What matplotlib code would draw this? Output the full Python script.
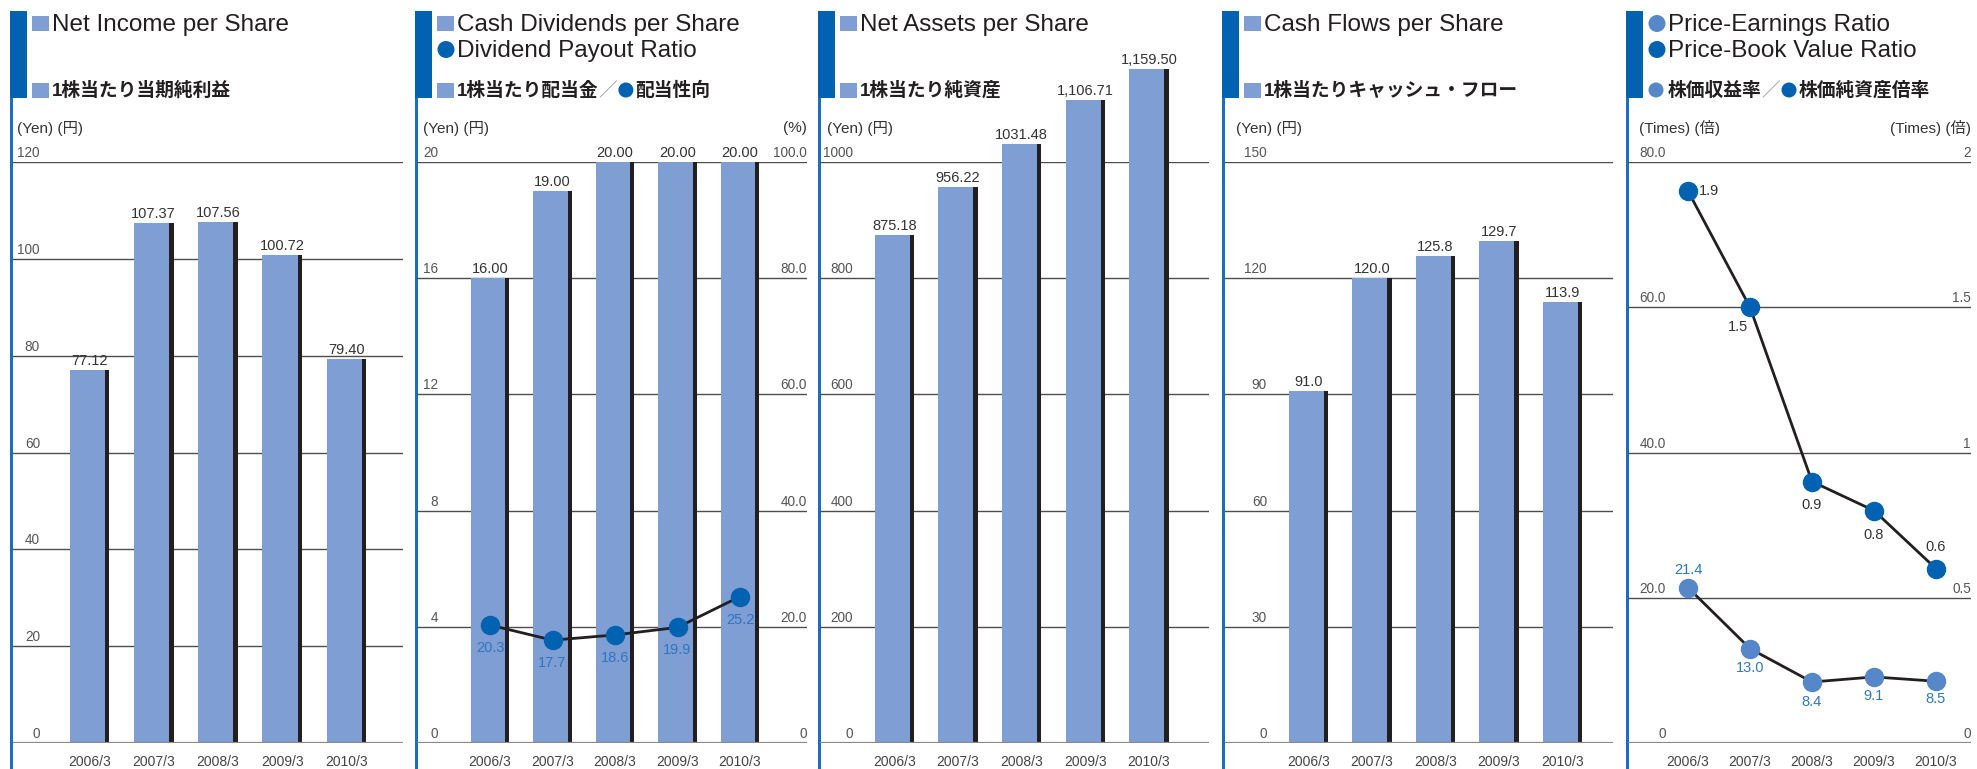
import matplotlib
matplotlib.use('Agg')
import matplotlib.pyplot as plt
from matplotlib.patches import Rectangle, Circle

plt.rcParams['font.family'] = ['Liberation Sans', 'Noto Sans CJK JP', 'DejaVu Sans']

# ---------------- data ----------------
years = ['2006/3', '2007/3', '2008/3', '2009/3', '2010/3']

net_income = [77.12, 107.37, 107.56, 100.72, 79.40]
net_income_lbl = ['77.12', '107.37', '107.56', '100.72', '79.40']

dividends = [16.00, 19.00, 20.00, 20.00, 20.00]
dividends_lbl = ['16.00', '19.00', '20.00', '20.00', '20.00']
payout = [20.3, 17.7, 18.6, 19.9, 25.2]

net_assets = [875.18, 956.22, 1031.48, 1106.71, 1159.50]
net_assets_lbl = ['875.18', '956.22', '1031.48', '1,106.71', '1,159.50']

cash_flows = [91.0, 120.0, 125.8, 129.7, 113.9]
cash_flows_lbl = ['91.0', '120.0', '125.8', '129.7', '113.9']

per = [21.4, 13.0, 8.4, 9.1, 8.5]
pbr = [1.9, 1.5, 0.9, 0.8, 0.6]

ticks_ni = [0, 20, 40, 60, 80, 100, 120]
ticks_div = [0, 4, 8, 12, 16, 20]
ticks_pay = ['0', '20.0', '40.0', '60.0', '80.0', '100.0']
ticks_na = [0, 200, 400, 600, 800, 1000]
ticks_cf = [0, 30, 60, 90, 120, 150]
ticks_per = [0, 20, 40, 60, 80]
ticks_per_lbl = ['0', '20.0', '40.0', '60.0', '80.0']
ticks_pbr_lbl = ['0', '0.5', '1', '1.5', '2']

# ---------------- style ----------------
BAR = '#7F9ED3'
SHADOW = '#231F20'
DARKBLUE = '#0062B1'
LIGHTDOT = '#5687C8'
TXT = '#231F20'
TICK = '#555555'

W, H = 1977, 769
fig = plt.figure(figsize=(W / 100, H / 100), dpi=100)
fig.patch.set_facecolor('white')
ax0 = fig.add_axes([0, 0, 1, 1])
ax0.set_xlim(0, W)
ax0.set_ylim(H, 0)
ax0.axis('off')
r = fig.canvas.get_renderer()

Y0, Y1 = 743, 162  # baseline / top gridline in pixels


def make_axes(L, R, c0, s):
    ax = fig.add_axes([L / W, (H - Y0) / H, (R - L) / W, (Y0 - Y1) / H])
    ax.set_xlim((L - c0) / s, (R - c0) / s)
    ax.axis('off')
    return ax


def grid(ax, ticks, labels, xf):
    for v, lbl in zip(ticks, labels):
        if v == ticks[0]:
            ax.axhline(v, color='#8a8a8a', lw=1.6, zorder=3)
        else:
            ax.axhline(v, color='#4d4d4d', lw=1, zorder=1)
        ax.annotate(lbl, xy=(xf, v), xycoords=ax.get_yaxis_transform(),
                    xytext=(0, 5), textcoords='offset pixels', ha='right',
                    va='baseline', fontsize=9.8, color=TICK, annotation_clip=False)


def right_labels(ax, ticks, labels):
    for v, lbl in zip(ticks, labels):
        ax.annotate(lbl, xy=(1.0, v), xycoords=ax.get_yaxis_transform(),
                    xytext=(0, 5), textcoords='offset pixels', ha='right',
                    va='baseline', fontsize=9.8, color=TICK, annotation_clip=False)


def xlabels(ax):
    for i, yr in enumerate(years):
        ax.annotate(yr, xy=(i, 0), xytext=(0, -19), textcoords='offset pixels',
                    ha='center', va='center', fontsize=10, color='#444444',
                    annotation_clip=False)


def bars(ax, vals, lbls):
    x = list(range(len(vals)))
    ax.bar([i - 0.31 for i in x], vals, width=0.55, align='edge', color=BAR,
           zorder=2, clip_on=False)
    ax.bar([i + 0.24 for i in x], vals, width=0.07, align='edge', color=SHADOW,
           zorder=2, clip_on=False)
    for i, (v, lbl) in enumerate(zip(vals, lbls)):
        ax.annotate(lbl, xy=(i, v), xytext=(0, 5), textcoords='offset pixels',
                    ha='center', va='baseline', fontsize=10.5, color='#333333',
                    annotation_clip=False)


def header(px, lines, jp_marker, jp_parts, unit_x, unit):
    ax0.add_patch(Rectangle((px, 11), 17, 87, color=DARKBLUE, lw=0))
    ax0.add_patch(Rectangle((px, 98), 3, H - 98, color='#1C6FBE', lw=0))
    for (mk, col, txt), yb in zip(lines, [31, 57]):
        if mk == 's':
            ax0.add_patch(Rectangle((px + 22, yb - 15), 17, 15, color=col, lw=0))
        else:
            ax0.add_patch(Circle((px + 31, yb - 7.5), 8.5, color=col, lw=0))
        ax0.text(px + 42, yb, txt, fontsize=17.5, color=TXT, va='baseline')
    mk, col = jp_marker
    if mk == 's':
        ax0.add_patch(Rectangle((px + 22, 83), 17, 15, color=col, lw=0))
    else:
        ax0.add_patch(Circle((px + 30, 90), 7.5, color=col, lw=0))
    x = px + 42
    for kind, val, c in jp_parts:
        if kind == 'dot':
            ax0.add_patch(Circle((x + 8.5, 90), 7.5, color=c, lw=0))
            x += 18
        else:
            t = ax0.text(x, 96, val, color=c, fontsize=13.5, va='baseline',
                         fontweight='bold' if kind == 'b' else 'normal')
            x = t.get_window_extent(renderer=r).x1
    ax0.text(unit_x, 128, unit, fontsize=11, color='#333333', va='center')


# ---------------- panel 1: net income ----------------
header(10, [('s', BAR, 'Net Income per Share')], ('s', BAR),
       [('b', '1株当たり当期純利益', TXT)], 17, '(Yen) (円)')
ax = make_axes(13, 403, 89.5, 64.25)
ax.set_ylim(0, 120)
grid(ax, ticks_ni, [str(t) for t in ticks_ni], 0.069)
bars(ax, net_income, net_income_lbl)
xlabels(ax)

# ---------------- panel 2: dividends / payout ----------------
header(415, [('s', BAR, 'Cash Dividends per Share'), ('o', DARKBLUE, 'Dividend Payout Ratio')],
       ('s', BAR),
       [('b', '1株当たり配当金', TXT), ('n', '／', '#9a9a9a'), ('dot', None, DARKBLUE),
        ('b', '配当性向', TXT)], 423, '(Yen) (円)')
ax0.text(807, 128, '(%)', fontsize=11, color='#333333', va='center', ha='right')
ax = make_axes(417, 807, 490, 62.5)
ax.set_ylim(0, 20)
grid(ax, ticks_div, [str(t) for t in ticks_div], 0.054)
bars(ax, dividends, dividends_lbl)
xlabels(ax)
axr = ax.twinx()
axr.set_ylim(0, 100)
axr.axis('off')
right_labels(axr, [0, 20, 40, 60, 80, 100], ticks_pay)
axr.plot(range(5), payout, color=SHADOW, lw=2, marker='o', ms=13,
         mfc=DARKBLUE, mec=DARKBLUE, zorder=4, clip_on=False)
for i, v in enumerate(payout):
    axr.annotate(f'{v:.1f}', xy=(i, v), xytext=(0, -23), textcoords='offset pixels',
                 ha='center', va='center', fontsize=10.5, color='#2F75C0',
                 annotation_clip=False)

# ---------------- panel 3: net assets ----------------
header(818, [('s', BAR, 'Net Assets per Share')], ('s', BAR),
       [('b', '1株当たり純資産', TXT)], 827, '(Yen) (円)')
ax = make_axes(820, 1209, 894.5, 63.6)
ax.set_ylim(0, 1000)
grid(ax, ticks_na, [str(t) for t in ticks_na], 0.085)
bars(ax, net_assets, net_assets_lbl)
xlabels(ax)

# ---------------- panel 4: cash flows ----------------
header(1222, [('s', BAR, 'Cash Flows per Share')], ('s', BAR),
       [('b', '1株当たりキャッシュ・フロー', TXT)], 1236, '(Yen) (円)')
ax = make_axes(1225, 1613, 1308.5, 63.5)
ax.set_ylim(0, 150)
grid(ax, ticks_cf, [str(t) for t in ticks_cf], 0.108)
bars(ax, cash_flows, cash_flows_lbl)
xlabels(ax)

# ---------------- panel 5: PER / PBR ----------------
header(1626, [('o', LIGHTDOT, 'Price-Earnings Ratio'), ('o', DARKBLUE, 'Price-Book Value Ratio')],
       ('o', LIGHTDOT),
       [('b', '株価収益率', TXT), ('n', '／', '#9a9a9a'), ('dot', None, DARKBLUE),
        ('b', '株価純資産倍率', TXT)], 1639, '(Times) (倍)')
ax0.text(1971, 128, '(Times) (倍)', fontsize=11, color='#333333', va='center', ha='right')
ax = make_axes(1628, 1971, 1688, 62)
ax.set_ylim(0, 80)
grid(ax, ticks_per, ticks_per_lbl, 0.111)
xlabels(ax)
ax.plot(range(5), per, color=SHADOW, lw=2, marker='o', ms=13,
        mfc=LIGHTDOT, mec=LIGHTDOT, zorder=4, clip_on=False)
per_off = [(0, 18), (0, -19), (0, -20), (0, -19), (0, -18)]
for i, (v, (dx, dy)) in enumerate(zip(per, per_off)):
    ax.annotate(f'{v:.1f}', xy=(i, v), xytext=(dx, dy), textcoords='offset pixels',
                ha='center', va='center', fontsize=10.5, color='#2E78C2',
                annotation_clip=False)
axr = ax.twinx()
axr.set_ylim(0, 2)
axr.axis('off')
right_labels(axr, [0, 0.5, 1, 1.5, 2], ticks_pbr_lbl)
axr.plot(range(5), pbr, color=SHADOW, lw=2, marker='o', ms=13,
         mfc=DARKBLUE, mec=DARKBLUE, zorder=4, clip_on=False)
pbr_off = [(11, 0, 'left'), (-12, -20, 'center'), (0, -23, 'center'),
           (0, -24, 'center'), (0, 22, 'center')]
for i, (v, (dx, dy, ha)) in enumerate(zip(pbr, pbr_off)):
    axr.annotate(f'{v:.1f}', xy=(i, v), xytext=(dx, dy), textcoords='offset pixels',
                 ha=ha, va='center', fontsize=10.5, color='#333333',
                 annotation_clip=False)

fig.savefig('out.png', dpi=100)
